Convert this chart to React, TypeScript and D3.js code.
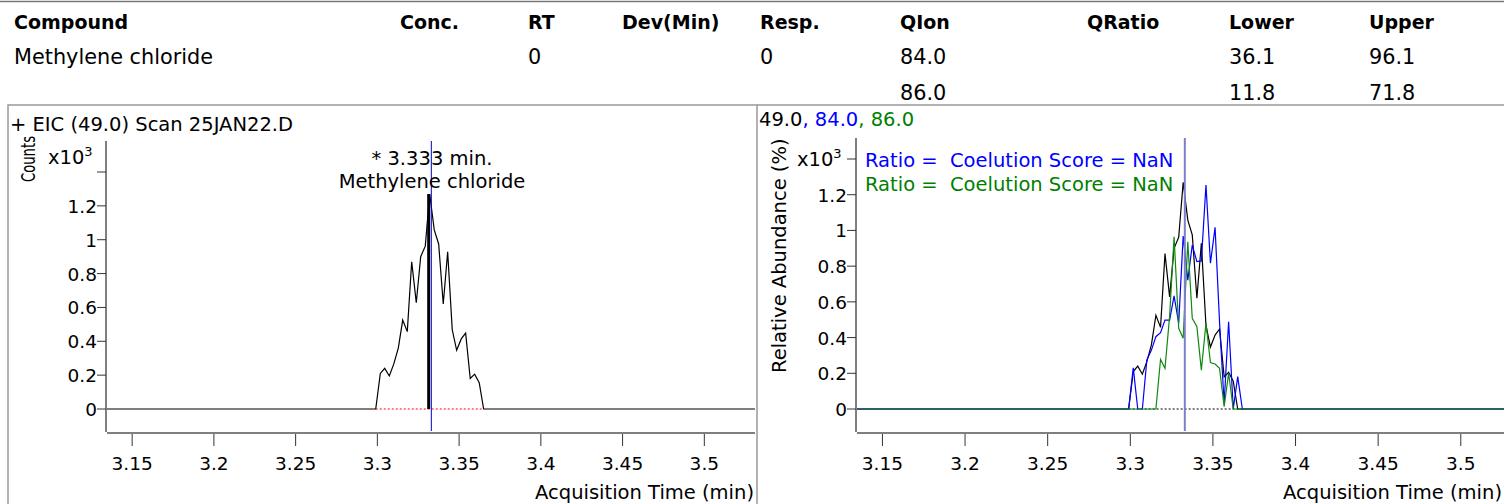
import * as d3 from 'd3';

// scan times (min) with the three ion traces, x10^3 counts
const scanTimes = [3.1, 3.299, 3.3018, 3.3045, 3.3073, 3.31, 3.3128, 3.3155, 3.3183, 3.321, 3.3238, 3.3265, 3.3293, 3.332, 3.3348, 3.3375, 3.3403, 3.343, 3.3458, 3.3485, 3.3513, 3.354, 3.3568, 3.3595, 3.3623, 3.365, 3.3678, 3.6];
const ion49 = [0, 0, 0.21, 0.24, 0.195, 0.265, 0.36, 0.525, 0.457, 0.87, 0.628, 0.9, 0.962, 1.27, 1.058, 0.975, 0.62, 0.928, 0.468, 0.347, 0.414, 0.448, 0.18, 0.206, 0.156, 0, 0, 0];
const ion84 = [0, 0, 0.23, 0, 0, 0.274, 0.33, 0.405, 0.427, 0.498, 0.498, 0.634, 0.48, 0.969, 0.722, 0.918, 0.825, 0.829, 1.254, 0.816, 1.017, 0.489, 0.032, 0.489, 0, 0.181, 0, 0];
const ion86 = [0, 0, 0, 0, 0, 0, 0, 0, 0.278, 0.228, 0.52, 0.965, 0.452, 0.396, 0.937, 0.508, 0.461, 0.218, 0.48, 0.26, 0.252, 0.228, 0.013, 0.2, 0, 0, 0, 0];

const retentionTime = 3.333;
const apexTime = 3.332;
const apexValue = 1.27;
const peakStart = 3.299;
const peakEnd = 3.365;
const qualEnd = 3.3678;

const xDomain: [number, number] = [3.134, 3.531];
const xTicks = [3.15, 3.2, 3.25, 3.3, 3.35, 3.4, 3.45, 3.5];
const yTicks = [0, 0.2, 0.4, 0.6, 0.8, 1, 1.2, 1.4];

// results table
const headers = ['Compound', 'Conc.', 'RT', 'Dev(Min)', 'Resp.', 'QIon', 'QRatio', 'Lower', 'Upper'];
const row1 = ['Methylene chloride', '', '0', '', '0', '84.0', '', '36.1', '96.1'];
const row2 = ['', '', '', '', '', '86.0', '', '11.8', '71.8'];
const colX = [14, 400, 528, 622, 760, 900, 1087, 1229, 1369];

const FONT = 'DejaVu Sans';
const FS = 19.5;
const TICK_FS = 18.5;
const BLUE = '#0000ff';
const GREEN = '#008000';

const fmtTick = (v: number) => String(+v.toFixed(2));

type PanelProps = {
  id: string;
  left: number;
  right: number;
  top: number;
  bottom: number;
  y14: number;
  children: (x: d3.ScaleLinear<number, number>, y: d3.ScaleLinear<number, number>) => React.ReactNode;
};

function Axes({ id, left, right, top, bottom, y14, children }: PanelProps) {
  const x = d3.scaleLinear().domain(xDomain).range([left, right]);
  const y = d3.scaleLinear().domain([0, 1.4]).range([409, y14]);
  return (
    <g>
      <defs>
        <clipPath id={id}>
          <rect x={left + 1} y={top} width={right - left - 1} height={bottom - top - 1} />
        </clipPath>
      </defs>
      <g clipPath={`url(#${id})`}>{children(x, y)}</g>
      <line x1={left} x2={left} y1={top} y2={bottom} stroke="#555" strokeWidth={1.5} />
      <line x1={left + 1} x2={Math.min(right, 1504)} y1={bottom + 1} y2={bottom + 1} stroke="#555" strokeWidth={1.5} />
      {yTicks.map(t => (
        <g key={t}>
          <line x1={left - 9} x2={left} y1={y(t)} y2={y(t)} stroke="#333" />
          {t < 1.4 && (
            <text x={left - 9} y={y(t) + 7} textAnchor="end" fontSize={TICK_FS}>{fmtTick(t)}</text>
          )}
        </g>
      ))}
      {xTicks.map(t => (
        <g key={t}>
          <line x1={x(t)} x2={x(t)} y1={bottom + 2} y2={bottom + 14} stroke="#333" />
          <text x={x(t)} y={bottom + 38} textAnchor="middle" fontSize={TICK_FS}>{fmtTick(t)}</text>
        </g>
      ))}
    </g>
  );
}

export default function App() {
  const line = (xs: d3.ScaleLinear<number, number>, ys: d3.ScaleLinear<number, number>, vals: number[]) =>
    d3.line<number>().x((_, i) => xs(scanTimes[i])).y(v => ys(v))(vals) || '';

  return (
    <svg width={1504} height={504} style={{ position: 'absolute', left: 0, top: 0, background: '#fff' }}
      fontFamily={FONT} fill="#000">
      {/* table */}
      <line x1={0} x2={1504} y1={1.5} y2={1.5} stroke="#777" strokeWidth={1.5} />
      {headers.map((h, i) => (
        <text key={h} x={colX[i]} y={29} fontSize={19} fontWeight="bold">{h}</text>
      ))}
      {row1.map((v, i) => v && <text key={'a' + i} x={colX[i]} y={64} fontSize={20.8}>{v}</text>)}
      {row2.map((v, i) => v && <text key={'b' + i} x={colX[i]} y={100} fontSize={20.8}>{v}</text>)}

      {/* panel frames */}
      <rect x={8} y={105} width={749} height={410} fill="none" stroke="#999" strokeWidth={1.5} />
      <line x1={757} x2={1504} y1={105} y2={105} stroke="#999" strokeWidth={1.5} />

      {/* left: EIC 49 */}
      <text x={10} y={131} fontSize={FS}>+ EIC (49.0) Scan 25JAN22.D</text>
      <text transform="translate(35,182) rotate(-90)" fontSize={19} textLength={46} lengthAdjust="spacingAndGlyphs">Counts</text>
      <text x={48} y={164} fontSize={FS}>x10<tspan fontSize={13} dy={-8}>3</tspan></text>
      <Axes id="clipL" left={106} right={755} top={141} bottom={432} y14={172}>
        {(x, y) => (
          <>
            <path d={line(x, y, ion49)} fill="none" stroke="#000" strokeWidth={1.2} />
            <line x1={x(peakStart)} x2={x(peakEnd)} y1={y(0)} y2={y(0)} stroke="#f00" strokeDasharray="2,2" strokeWidth={1.2} />
            <line x1={x(apexTime) - 1} x2={x(apexTime) - 1} y1={y(0)} y2={y(apexValue)} stroke="#000" strokeWidth={3} />
            <line x1={x(retentionTime)} x2={x(retentionTime)} y1={138} y2={432} stroke="#0000c8" strokeWidth={1} />
          </>
        )}
      </Axes>
      <text x={432} y={165} textAnchor="middle" fontSize={FS}>* 3.333 min.</text>
      <text x={432} y={188} textAnchor="middle" fontSize={FS}>Methylene chloride</text>
      <text x={754} y={499} textAnchor="end" fontSize={FS}>Acquisition Time (min)</text>

      {/* right: qualifier overlay */}
      <text x={759} y={126} fontSize={FS}>
        49.0<tspan fill={BLUE}>, 84.0</tspan><tspan fill={GREEN}>, 86.0</tspan>
      </text>
      <text transform="translate(786,373) rotate(-90)" fontSize={FS}>Relative Abundance (%)</text>
      <text x={797} y={166} fontSize={FS}>x10<tspan fontSize={13} dy={-8}>3</tspan></text>
      <Axes id="clipR" left={856} right={1512} top={138} bottom={432} y14={159}>
        {(x, y) => (
          <>
            <line x1={x(peakStart)} x2={x(qualEnd)} y1={y(0)} y2={y(0)} stroke="#000" strokeDasharray="2,2" strokeWidth={1} />
            <path d={line(x, y, ion49)} fill="none" stroke="#000" strokeWidth={1.2} />
            <path d={line(x, y, ion84)} fill="none" stroke={BLUE} strokeWidth={1.2} />
            <path d={line(x, y, ion86)} fill="none" stroke="#118811" strokeWidth={1.2} />
            <line x1={x(retentionTime)} x2={x(retentionTime)} y1={138} y2={432} stroke="#7c80c8" strokeWidth={2} />
          </>
        )}
      </Axes>
      <text x={865} y={167} fontSize={FS} fill={BLUE} style={{ whiteSpace: 'pre' }}>{'Ratio =  Coelution Score = NaN'}</text>
      <text x={865} y={191} fontSize={FS} fill={GREEN} style={{ whiteSpace: 'pre' }}>{'Ratio =  Coelution Score = NaN'}</text>
      <text x={1502} y={499} textAnchor="end" fontSize={FS}>Acquisition Time (min)</text>
    </svg>
  );
}
